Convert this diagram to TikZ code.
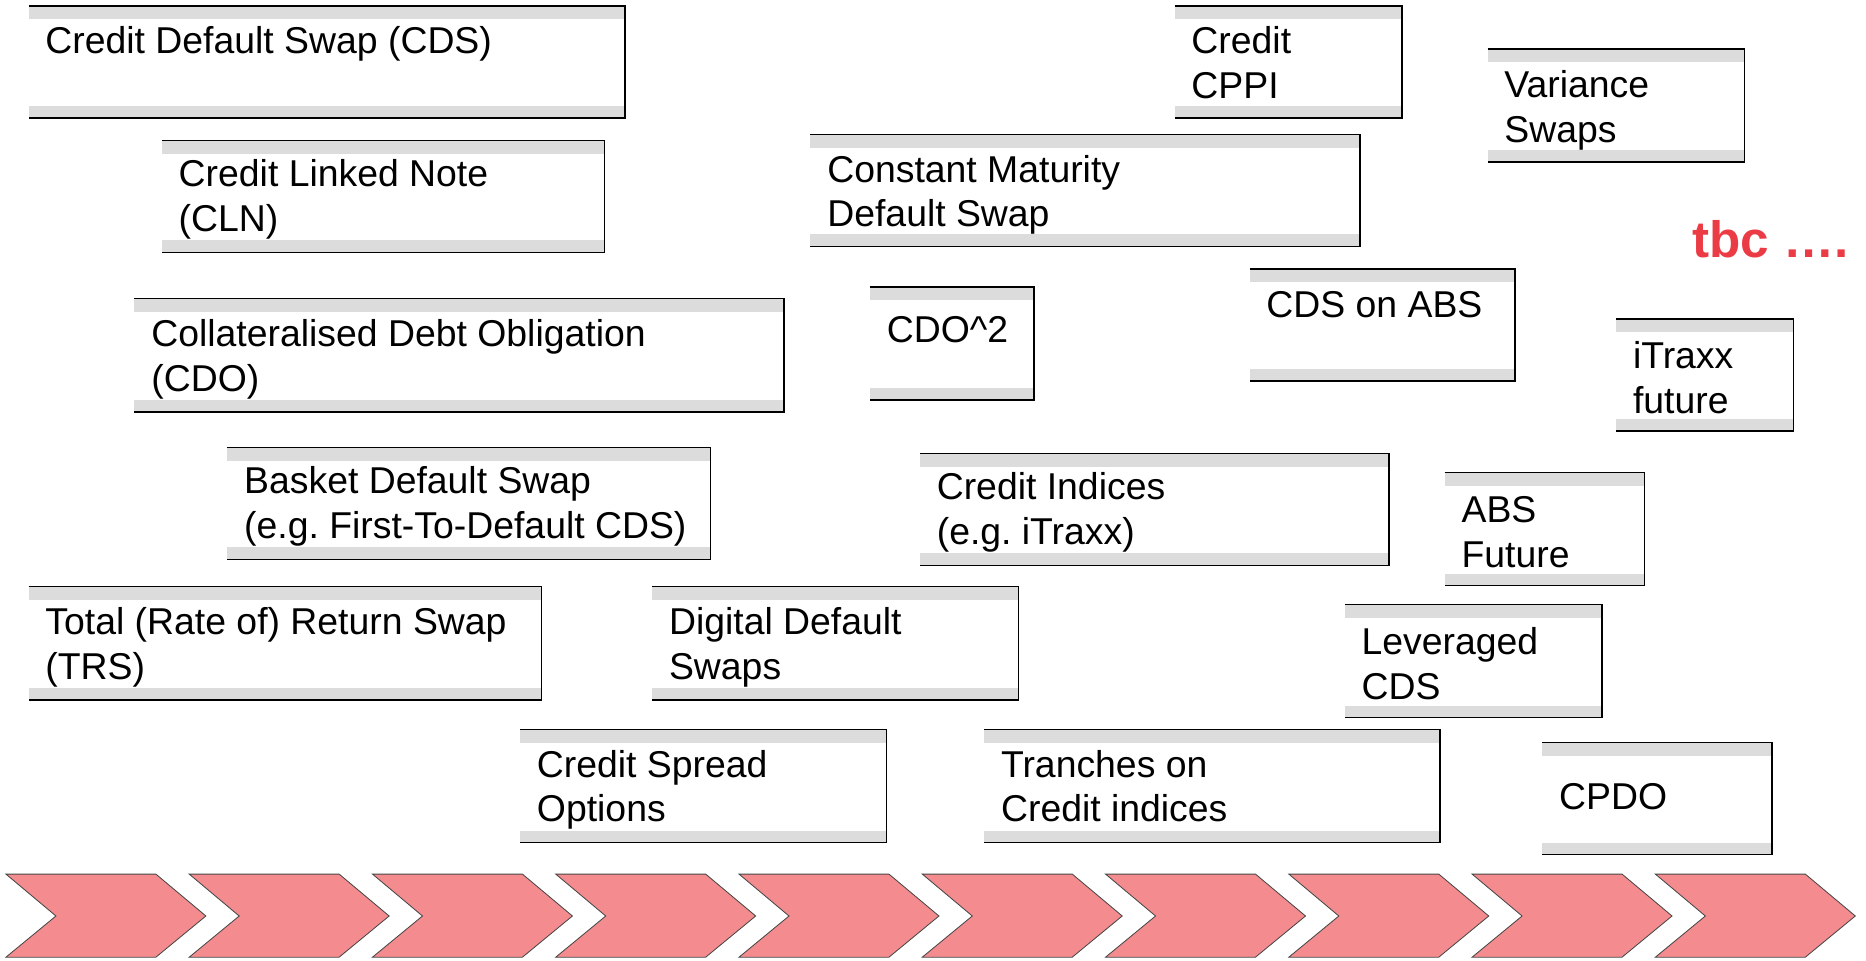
\documentclass[tikz,border=0pt]{standalone}
\usepackage{fontspec}
\setmainfont{Liberation Sans}
\frenchspacing
\definecolor{bandgray}{RGB}{220,220,220}
\definecolor{chevfill}{RGB}{244,140,143}
\definecolor{chevline}{RGB}{70,70,70}
\definecolor{tbcred}{RGB}{235,60,70}
\tikzset{
  band/.style={fill=bandgray},
  boxline/.style={draw=black, line width=1.3pt, line join=miter},
  label/.style={anchor=base west, inner sep=0pt, font=\fontsize{31.4}{37.6}\selectfont\frenchspacing},
  chevron/.style={fill=chevfill, draw=chevline, line width=0.7pt, line join=miter},
}
% product box: name, left, top, right, bottom, baseline offset, text
\newcommand\prodbox[7]{%
  \fill[band] (#2,#3) rectangle (#4,#3+11);
  \fill[band] (#2,#5-10) rectangle (#4,#5);
  \draw[boxline] (#2,#3) -- (#4,#3) -- (#4,#5) -- (#2,#5);
  \node[label] (#1) at (#2+14,#3+#6) {#7};
}
\newcommand\twolines[2]{\vtop{\hbox{#1}\hbox{#2}}}
\begin{document}
\begin{tikzpicture}[x=1pt,y=-1pt]
\useasboundingbox (0,0) rectangle (1568,807);

\prodbox{cds}{24}{5}{525}{99}{40}{Credit Default Swap (CDS)}
\prodbox{cln}{136}{118}{508}{212}{39}{\twolines{Credit Linked Note}{(CLN)}}
\prodbox{cdo}{113}{251}{659}{346}{40}{\twolines{Collateralised Debt Obligation}{(CDO)}}
\prodbox{basket}{191}{376}{597}{470}{39}{\twolines{Basket Default Swap}{(e.g. First-To-Default CDS)}}
\prodbox{trs}{24}{493}{455}{588}{40}{\twolines{Total (Rate of) Return Swap}{(TRS)}}
\prodbox{cso}{437}{613}{745}{708}{40}{\twolines{Credit Spread}{Options}}
\prodbox{dds}{548}{493}{856}{588}{40}{\twolines{Digital Default}{Swaps}}
\prodbox{cmds}{681}{113}{1143}{207}{40}{\twolines{Constant Maturity}{Default Swap}}
\prodbox{cdosq}{731}{241}{869}{336}{47}{CDO\^{}2}
\prodbox{cppi}{987}{5}{1178}{99}{40}{\twolines{Credit}{CPPI}}
\prodbox{indices}{773}{381}{1167}{475}{39}{\twolines{Credit Indices}{(e.g. iTraxx)}}
\prodbox{tranches}{827}{613}{1210}{708}{40}{\twolines{Tranches on}{Credit indices}}
\prodbox{cdsabs}{1050}{226}{1273}{320}{41}{CDS on ABS}
\prodbox{variance}{1250}{41}{1466}{136}{41}{\twolines{Variance}{Swaps}}
\prodbox{itraxxfut}{1358}{268}{1507}{362}{42}{\twolines{iTraxx}{future}}
\prodbox{absfut}{1214}{397}{1382}{492}{42}{\twolines{ABS}{Future}}
\prodbox{levcds}{1130}{508}{1346}{603}{42}{\twolines{Leveraged}{CDS}}
\prodbox{cpdo}{1296}{624}{1489}{718}{56}{CPDO}

\node[anchor=base west, inner sep=0pt, text=tbcred, font=\fontsize{43}{50}\selectfont\bfseries] (tbc) at (1422,216) {tbc \dots.};

% timeline of chevrons
\foreach \i in {0,...,9}
  \draw[chevron] ({5+154*\i},734.5) -- ++(126,0) -- ++(42,35.2) -- ++(-42,34.6)
    -- ++(-126,0) -- ++(42,-34.6) -- cycle;
\end{tikzpicture}
\end{document}
